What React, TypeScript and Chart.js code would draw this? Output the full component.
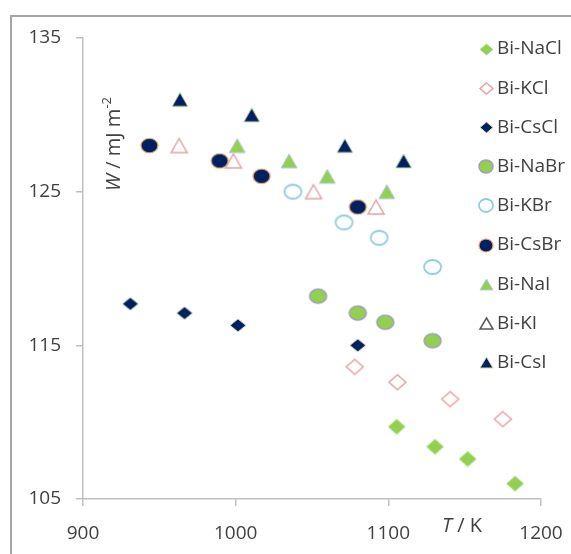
import React, { useEffect, useRef } from 'react';
import { Chart, registerables } from 'chart.js';

Chart.register(...registerables);

// ---- data (T / K, W / mJ m^-2) ----
const seriesNames = ['Bi-NaCl', 'Bi-KCl', 'Bi-CsCl', 'Bi-NaBr', 'Bi-KBr', 'Bi-CsBr', 'Bi-NaI', 'Bi-KI', 'Bi-CsI'];

const naClT = [1105.5, 1130.6, 1152, 1183];
const naClW = [109.7, 108.4, 107.6, 106.0];
const kClT = [1078, 1106, 1140.5, 1175];
const kClW = [113.6, 112.6, 111.5, 110.2];
const csClT = [931, 966.5, 1001.5, 1080];
const csClW = [117.7, 117.1, 116.3, 115.0];
const naBrT = [1054, 1080, 1098, 1129];
const naBrW = [118.2, 117.1, 116.5, 115.3];
const kBrT = [1037.5, 1071, 1094, 1129];
const kBrW = [125.0, 123.0, 122.0, 120.1];
const csBrT = [943.5, 989.5, 1017, 1080];
const csBrW = [128.0, 127.0, 126.0, 124.0];
const naIT = [1001, 1035, 1060, 1099];
const naIW = [128.0, 127.0, 126.0, 125.0];
const kIT = [963, 998.5, 1051, 1092];
const kIW = [128.0, 127.0, 125.0, 124.0];
const csIT = [963.5, 1010.5, 1071.5, 1110];
const csIW = [131.0, 130.0, 128.0, 127.0];

const xTicks = [900, 1000, 1100, 1200];
const yTicks = [105, 115, 125, 135];

const seriesT = [naClT, kClT, csClT, naBrT, kBrT, csBrT, naIT, kIT, csIT];
const seriesW = [naClW, kClW, csClW, naBrW, kBrW, csBrW, naIW, kIW, csIW];

// ---- styles ----
type Shape = 'diamond' | 'circle' | 'triangle';
interface MStyle { shape: Shape; fill: string; stroke: string; lw: number; w: number; h: number; lstroke?: string }

const GREEN = '#92D050';
const NAVY = '#002060';
const styles: MStyle[] = [
  { shape: 'diamond', fill: GREEN, stroke: '#b5dc8c', lw: 1, w: 17, h: 15 },
  { shape: 'diamond', fill: '#ffffff', stroke: '#e4a3a3', lw: 1.5, w: 17, h: 15 },
  { shape: 'diamond', fill: NAVY, stroke: '#d3e2b0', lw: 1, w: 16, h: 13 },
  { shape: 'circle', fill: GREEN, stroke: '#a09fb8', lw: 1.5, w: 17, h: 14 },
  { shape: 'circle', fill: '#ffffff', stroke: '#92cddc', lw: 1.8, w: 17, h: 14 },
  { shape: 'circle', fill: NAVY, stroke: '#eba36e', lw: 1.2, w: 17, h: 14.5 },
  { shape: 'triangle', fill: GREEN, stroke: '#b4c7e7', lw: 1, w: 16, h: 14 },
  { shape: 'triangle', fill: '#ffffff', stroke: '#e4a3a3', lw: 1.5, w: 16, h: 14, lstroke: '#595959' },
  { shape: 'triangle', fill: NAVY, stroke: '#c9dfa8', lw: 1, w: 16, h: 14 },
];

function makeMarker(s: MStyle, w: number, h: number, stroke: string): HTMLCanvasElement {
  const pad = 3;
  const c = document.createElement('canvas');
  c.width = Math.ceil(w) + pad * 2;
  c.height = Math.ceil(h) + pad * 2;
  const ctx = c.getContext('2d')!;
  const cx = c.width / 2;
  const cy = c.height / 2;
  ctx.beginPath();
  if (s.shape === 'diamond') {
    ctx.moveTo(cx, cy - h / 2);
    ctx.lineTo(cx + w / 2, cy);
    ctx.lineTo(cx, cy + h / 2);
    ctx.lineTo(cx - w / 2, cy);
    ctx.closePath();
  } else if (s.shape === 'circle') {
    ctx.ellipse(cx, cy, w / 2, h / 2, 0, 0, Math.PI * 2);
  } else {
    ctx.moveTo(cx, cy - h / 2);
    ctx.lineTo(cx + w / 2, cy + h / 2);
    ctx.lineTo(cx - w / 2, cy + h / 2);
    ctx.closePath();
  }
  ctx.fillStyle = s.fill;
  ctx.fill();
  ctx.lineWidth = s.lw;
  ctx.strokeStyle = stroke;
  ctx.stroke();
  return c;
}

const FONT = '"Open Sans", "Liberation Sans", sans-serif';
const TEXT = '#404040';
const AXIS = '#bfbfbf';

export default function App() {
  const ref = useRef<HTMLCanvasElement | null>(null);

  useEffect(() => {
    if (!ref.current) return;
    const plotMarkers = styles.map((s) => makeMarker(s, s.w, s.h, s.stroke));
    const legendMarkers = styles.map((s) =>
      makeMarker(s, s.shape === 'circle' ? 14 : 13, s.shape === 'circle' ? 13 : 11, s.lstroke || s.stroke)
    );

    const datasets = seriesNames.map((name, i) => ({
      label: name,
      data: seriesT[i].map((t, j) => ({ x: t, y: seriesW[i][j] })),
      pointStyle: plotMarkers[i] as any,
      pointRadius: 8,
      showLine: false,
    }));

    const decor = {
      id: 'decor',
      beforeDraw(chart: any) {
        const ctx = chart.ctx as CanvasRenderingContext2D;
        ctx.save();
        ctx.fillStyle = '#ffffff';
        ctx.fillRect(0, 0, chart.width, chart.height);
        ctx.strokeStyle = '#a6a6a6';
        ctx.lineWidth = 2;
        ctx.beginPath();
        ctx.moveTo(11, chart.height);
        ctx.lineTo(11, 16);
        ctx.lineTo(chart.width, 16);
        ctx.stroke();
        ctx.restore();
      },
      afterDraw(chart: any) {
        const ctx = chart.ctx as CanvasRenderingContext2D;
        ctx.save();
        // legend
        ctx.fillStyle = TEXT;
        ctx.font = `19px ${FONT}`;
        ctx.textAlign = 'left';
        ctx.textBaseline = 'middle';
        seriesNames.forEach((name, i) => {
          const y = 49 + i * 39.2;
          const m = legendMarkers[i];
          ctx.drawImage(m, Math.round(486 - m.width / 2), Math.round(y - m.height / 2));
          ctx.fillText(name, 497, y);
        });

        // y title: "W / mJ m-2" rotated
        const parts: [string, string, number][] = [
          ['W', `italic 20px ${FONT}`, 0],
          [' / mJ m', `20px ${FONT}`, 0],
          ['-2', `13px ${FONT}`, -7],
        ];
        let total = 0;
        parts.forEach(([t, f]) => { ctx.font = f; total += ctx.measureText(t).width; });
        ctx.translate(114, 144);
        ctx.rotate(-Math.PI / 2);
        let x = -total / 2;
        ctx.textBaseline = 'middle';
        parts.forEach(([t, f, dy]) => {
          ctx.font = f;
          ctx.fillText(t, x, dy);
          x += ctx.measureText(t).width;
        });
        ctx.setTransform(1, 0, 0, 1, 0, 0);

        // x title: "T / K"
        const xp: [string, string][] = [
          ['T', `italic 20px ${FONT}`],
          [' / K', `20px ${FONT}`],
        ];
        let tw = 0;
        xp.forEach(([t, f]) => { ctx.font = f; tw += ctx.measureText(t).width; });
        let xx = 462 - tw / 2;
        xp.forEach(([t, f]) => {
          ctx.font = f;
          ctx.fillText(t, xx, 526);
          xx += ctx.measureText(t).width;
        });
        ctx.restore();
      },
    };

    const chart = new Chart(ref.current, {
      type: 'scatter',
      data: { datasets },
      options: {
        animation: false,
        responsive: false,
        devicePixelRatio: 1,
        layout: { padding: { left: 0, top: 38, right: 30, bottom: 0 } },
        plugins: { legend: { display: false }, tooltip: { enabled: false } },
        scales: {
          x: {
            type: 'linear',
            min: 900,
            max: 1200,
            afterBuildTicks: (s: any) => { s.ticks = xTicks.map((v) => ({ value: v })); },
            afterFit: (s: any) => { s.height = 55; s.paddingLeft = 0; s.paddingRight = 0; },
            ticks: {
              callback: (v: any) => String(v),
              color: TEXT,
              font: { family: FONT, size: 19 },
              padding: 16,
              maxRotation: 0,
            },
            grid: { drawOnChartArea: false, drawTicks: true, tickLength: 7, color: AXIS, lineWidth: 1.5 },
            border: { color: AXIS, width: 1.5 },
          },
          y: {
            type: 'linear',
            min: 105,
            max: 135,
            afterBuildTicks: (s: any) => { s.ticks = yTicks.map((v) => ({ value: v })); },
            afterFit: (s: any) => { s.width = 83; s.paddingTop = 0; s.paddingBottom = 0; },
            ticks: {
              callback: (v: any) => String(v),
              color: TEXT,
              font: { family: FONT, size: 19 },
              padding: 15,
            },
            grid: { drawOnChartArea: false, drawTicks: true, tickLength: 7, color: AXIS, lineWidth: 1.5 },
            border: { color: AXIS, width: 1.5 },
          },
        },
      },
      plugins: [decor],
    } as any);
    return () => chart.destroy();
  }, []);

  return (
    <div style={{ position: 'absolute', left: 0, top: 0, width: 571, height: 554, background: '#fff' }}>
      <canvas ref={ref} width={571} height={554} style={{ display: 'block', width: 571, height: 554 }} />
    </div>
  );
}
